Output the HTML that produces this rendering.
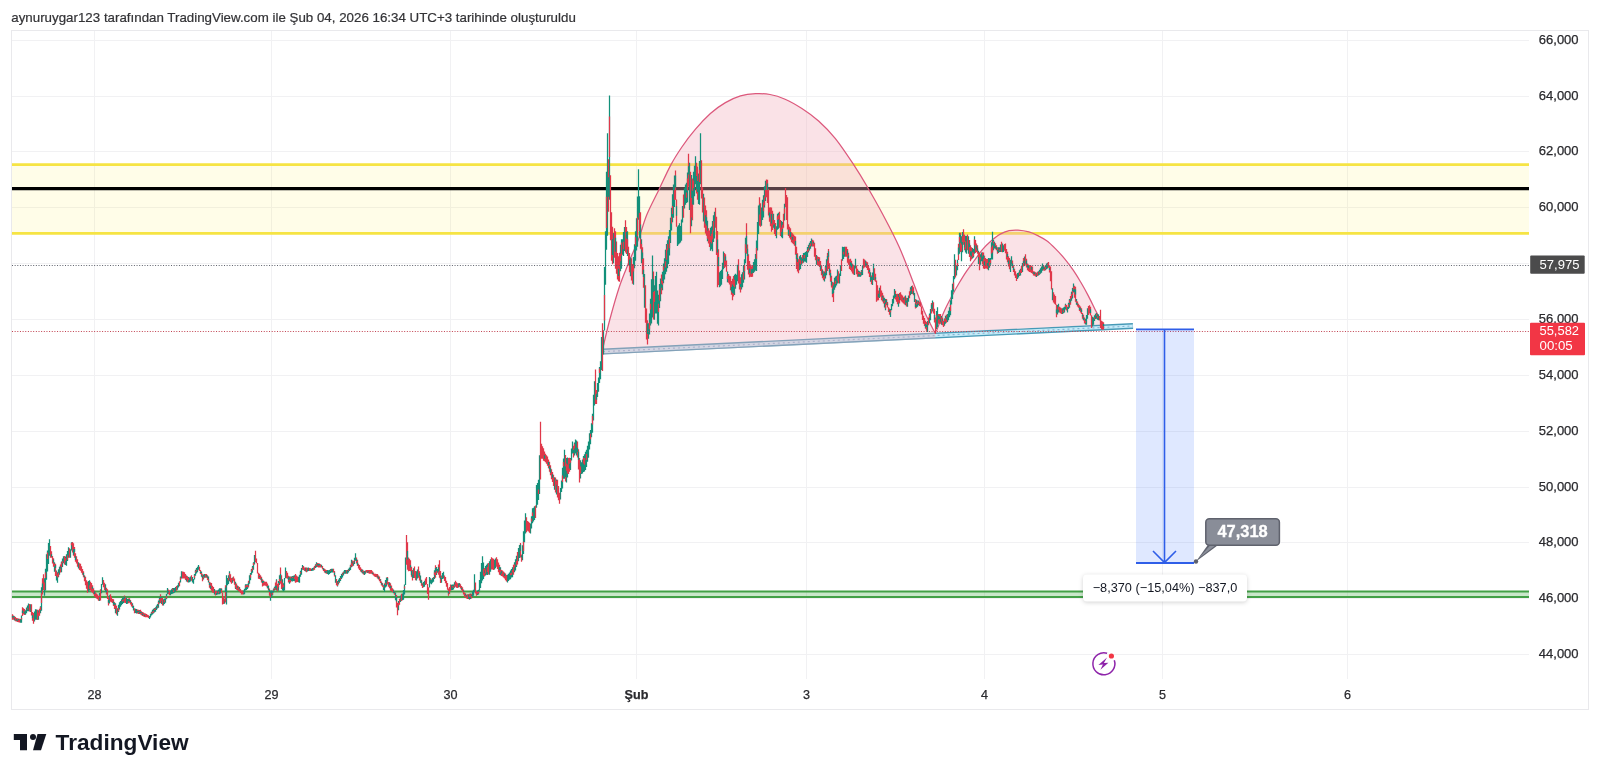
<!DOCTYPE html>
<html><head><meta charset="utf-8"><style>
html,body{margin:0;padding:0;background:#fff;width:1600px;height:776px;overflow:hidden}
svg{display:block;font-family:"Liberation Sans",sans-serif;opacity:0.999}
</style></head><body>
<svg width="1600" height="776" viewBox="0 0 1600 776">
<rect x="0" y="0" width="1600" height="776" fill="#ffffff"/>
<text x="11.3" y="22.2" font-size="12.6" fill="#333336" stroke="#333336" stroke-width="0.2" textLength="564.5" lengthAdjust="spacingAndGlyphs">aynuruygar123 tarafından TradingView.com ile Şub 04, 2026 16:34 UTC+3 tarihinde oluşturuldu</text>
<rect x="11.5" y="30.5" width="1577" height="679" fill="#fff" stroke="#e9e9ec" stroke-width="1"/>
<path d="M12 654.5H1529M12 598.5H1529M12 542.5H1529M12 487.5H1529M12 431.5H1529M12 375.5H1529M12 319.5H1529M12 263.5H1529M12 207.5H1529M12 151.5H1529M12 96.5H1529M12 40.5H1529M94.5 31V679M271.5 31V679M450.5 31V679M636.5 31V679M806.5 31V679M984.5 31V679M1162.5 31V679M1347.5 31V679" stroke="#f1f1f3" stroke-width="1" fill="none"/>
<!-- green support -->
<rect x="12" y="591.5" width="1517" height="5.5" fill="rgba(76,175,80,0.3)"/>
<path d="M12 591.5H1529M12 597H1529" stroke="#43a047" stroke-width="2"/>
<!-- yellow band -->
<rect x="12" y="165" width="1517" height="68" fill="rgba(255,236,80,0.13)"/>
<path d="M12 164.6H1529M12 233.4H1529" stroke="#f6e443" stroke-width="2.6"/>
<path d="M12 188.6H1529" stroke="#000" stroke-width="3.2"/>
<!-- neckline -->
<path d="M603 351.6L1133 326" stroke="#4699b6" stroke-width="6" />
<path d="M603 351.6L1133 326" stroke="#c4ebf8" stroke-width="3.2" />
<path d="M603 351.6L1133 326" stroke="#88b4d4" stroke-width="1.2" stroke-dasharray="2 3"/>
<!-- arcs -->
<path d="M603.0 347.5C604.1 342.9 607.0 330.1 609.7 320.0C612.4 309.9 616.1 296.7 619.3 287.0C622.5 277.3 625.8 270.1 629.0 262.0C632.2 253.9 635.8 246.5 638.7 238.7C641.7 230.9 643.3 223.3 646.7 215.0C650.1 206.7 655.2 197.3 659.3 188.9C663.3 180.5 667.2 171.6 671.0 164.6C674.8 157.6 677.9 152.9 681.9 147.0C685.9 141.1 690.5 135.0 695.3 129.4C700.0 123.8 705.4 118.0 710.4 113.5C715.4 109.0 720.4 105.5 725.4 102.6C730.4 99.7 735.5 97.4 740.5 95.9C745.5 94.4 750.7 93.9 755.6 93.7C760.5 93.5 765.1 93.6 770.0 94.5C774.9 95.4 779.8 96.9 785.1 99.2C790.4 101.5 796.3 104.9 801.9 108.5C807.5 112.1 813.0 116.0 818.6 121.0C824.2 126.0 829.7 131.5 835.4 138.6C841.1 145.7 847.6 155.5 853.0 163.7C858.4 171.9 863.0 179.4 868.0 188.0C873.0 196.6 877.9 205.2 883.1 215.0C888.3 224.8 894.2 235.8 899.2 247.0C904.2 258.1 909.0 271.4 913.1 281.9C917.2 292.3 920.0 301.2 923.6 309.7C927.2 318.2 933.1 329.1 935.0 333.0L935.6 338.5L603 354.6Z" fill="rgba(241,174,188,0.36)" stroke="none"/>
<path d="M603.0 347.5C604.1 342.9 607.0 330.1 609.7 320.0C612.4 309.9 616.1 296.7 619.3 287.0C622.5 277.3 625.8 270.1 629.0 262.0C632.2 253.9 635.8 246.5 638.7 238.7C641.7 230.9 643.3 223.3 646.7 215.0C650.1 206.7 655.2 197.3 659.3 188.9C663.3 180.5 667.2 171.6 671.0 164.6C674.8 157.6 677.9 152.9 681.9 147.0C685.9 141.1 690.5 135.0 695.3 129.4C700.0 123.8 705.4 118.0 710.4 113.5C715.4 109.0 720.4 105.5 725.4 102.6C730.4 99.7 735.5 97.4 740.5 95.9C745.5 94.4 750.7 93.9 755.6 93.7C760.5 93.5 765.1 93.6 770.0 94.5C774.9 95.4 779.8 96.9 785.1 99.2C790.4 101.5 796.3 104.9 801.9 108.5C807.5 112.1 813.0 116.0 818.6 121.0C824.2 126.0 829.7 131.5 835.4 138.6C841.1 145.7 847.6 155.5 853.0 163.7C858.4 171.9 863.0 179.4 868.0 188.0C873.0 196.6 877.9 205.2 883.1 215.0C888.3 224.8 894.2 235.8 899.2 247.0C904.2 258.1 909.0 271.4 913.1 281.9C917.2 292.3 920.0 301.2 923.6 309.7C927.2 318.2 933.1 329.1 935.0 333.0" fill="none" stroke="#dc587c" stroke-width="1.25"/>
<path d="M936.3 331.3C937.6 328.1 941.4 317.7 943.9 312.0C946.4 306.3 948.8 301.8 951.3 297.1C953.8 292.4 956.2 288.0 958.7 283.8C961.2 279.6 963.6 275.6 966.1 271.9C968.6 268.2 970.9 265.2 973.6 261.5C976.3 257.8 979.5 253.1 982.4 249.7C985.3 246.2 988.3 243.4 991.3 240.8C994.3 238.2 997.2 235.8 1000.2 234.1C1003.2 232.4 1006.1 231.4 1009.1 230.7C1012.1 230.0 1014.7 229.9 1018.0 230.1C1021.3 230.3 1025.6 231.0 1028.9 231.9C1032.2 232.8 1034.8 234.1 1037.8 235.6C1040.8 237.1 1043.7 238.6 1046.7 240.8C1049.7 243.0 1052.6 245.9 1055.6 248.9C1058.6 251.9 1061.5 255.0 1064.5 258.6C1067.5 262.2 1070.7 266.4 1073.4 270.4C1076.1 274.3 1078.3 278.1 1080.8 282.3C1083.3 286.5 1086.0 291.4 1088.2 295.6C1090.4 299.8 1092.4 304.0 1094.1 307.5C1095.8 311.0 1097.2 313.4 1098.6 316.4C1100.0 319.4 1101.7 323.8 1102.3 325.3L1102.3 324.8L936.3 332.6Z" fill="rgba(241,174,188,0.36)" stroke="none"/>
<path d="M936.3 331.3C937.6 328.1 941.4 317.7 943.9 312.0C946.4 306.3 948.8 301.8 951.3 297.1C953.8 292.4 956.2 288.0 958.7 283.8C961.2 279.6 963.6 275.6 966.1 271.9C968.6 268.2 970.9 265.2 973.6 261.5C976.3 257.8 979.5 253.1 982.4 249.7C985.3 246.2 988.3 243.4 991.3 240.8C994.3 238.2 997.2 235.8 1000.2 234.1C1003.2 232.4 1006.1 231.4 1009.1 230.7C1012.1 230.0 1014.7 229.9 1018.0 230.1C1021.3 230.3 1025.6 231.0 1028.9 231.9C1032.2 232.8 1034.8 234.1 1037.8 235.6C1040.8 237.1 1043.7 238.6 1046.7 240.8C1049.7 243.0 1052.6 245.9 1055.6 248.9C1058.6 251.9 1061.5 255.0 1064.5 258.6C1067.5 262.2 1070.7 266.4 1073.4 270.4C1076.1 274.3 1078.3 278.1 1080.8 282.3C1083.3 286.5 1086.0 291.4 1088.2 295.6C1090.4 299.8 1092.4 304.0 1094.1 307.5C1095.8 311.0 1097.2 313.4 1098.6 316.4C1100.0 319.4 1101.7 323.8 1102.3 325.3" fill="none" stroke="#dc587c" stroke-width="1.25"/>
<path d="M14.5 616.2V620.5M20.5 619V622.7M21.5 615.6V622.8M25.5 610.2V614.8M26.5 607.5V613.3M27.5 605.4V611.2M28.5 603.6V611.2M30.5 604.3V611.9M34.5 611.5V621.6M35.5 609.2V619.8M36.5 609.6V619.7M38.5 610.2V619.8M40.5 606.2V613.3M41.5 587.2V610.8M44.5 578.2V595.8M45.5 568.8V590.4M46.5 554.2V579.8M47.5 550.5V571.5M48.5 543V564M49.5 539.2V555.8M54.5 562.3V571.7M56.5 570.5V580.5M57.5 572.3V582.8M58.5 569.3V577.3M59.5 566.7V574.8M61.5 561.5V572.3M62.5 558.5V567M63.5 556.2V563.3M65.5 556.6V564.9M66.5 554.3V565.8M67.5 551V561.1M68.5 547.2V557.8M70.5 549.2V557.8M71.5 542.2V550.4M78.5 562.2V568.5M88.5 581V591.7M89.5 580.2V590.4M99.5 593.1V601.1M101.5 583.9V593.3M102.5 577.2V584.8M105.5 584.2V592.1M109.5 595.3V603.4M115.5 603.2V613.3M117.5 608.2V615.8M118.5 604.7V612.1M119.5 602.2V609.4M120.5 600.9V606.8M121.5 599.3V605.2M122.5 598.1V604M123.5 597.2V603.1M126.5 598.1V604M127.5 599V603.8M132.5 603.2V607.8M133.5 605.7V610.5M135.5 608.8V613.1M136.5 609.1V613.4M139.5 610V614.1M149.5 616V619M150.5 613.8V617.5M151.5 611.8V615.4M152.5 609.8V614.5M153.5 608.7V613.4M154.5 607.9V612.6M155.5 607.2V611.8M156.5 605.5V610.1M157.5 604V608.6M158.5 600.5V607.8M159.5 597V603.5M161.5 596.7V604.1M163.5 599.2V605.5M164.5 598.6V604M165.5 598.2V602.8M166.5 594V599.3M167.5 587.9V594.3M170.5 590.5V595.2M171.5 589.3V594M172.5 587.9V593.8M173.5 587.9V593.3M174.5 587.9V592.8M175.5 587.1V591.8M177.5 585.2V589.8M178.5 582.8V587.6M180.5 576.4V582.5M181.5 571.2V578.5M186.5 575.4V581.6M188.5 577V582.4M189.5 577.6V582.3M190.5 576.5V581.6M192.5 577.1V582.4M193.5 578.9V583.8M194.5 573.9V579.4M195.5 569.8V575.8M196.5 567.9V573.5M197.5 566.7V572.3M198.5 565V569.8M201.5 571.4V576.8M203.5 574.4V579.6M204.5 574V577.7M208.5 576.6V582.6M214.5 589.1V594.4M216.5 590.8V594.9M217.5 590.6V594.4M218.5 589.5V594.2M219.5 588.2V594.2M220.5 588.2V593.5M224.5 598.5V603.8M226.5 575.2V604.5M227.5 577.9V585.2M228.5 575.2V583.9M229.5 571.2V581.3M232.5 577.4V582.7M235.5 581.7V589.1M237.5 585.6V590.4M243.5 590.6V594.4M244.5 588.7V594.2M245.5 584.2V590.4M246.5 584.3V589.9M247.5 584.2V589.1M249.5 575.2V583.8M250.5 573.1V580.3M251.5 568.9V574.8M252.5 566V572.8M253.5 562.2V569.8M254.5 555.1V564.4M268.5 585.6V590.4M270.5 590.8V600.8M271.5 590.6V597.9M272.5 590.8V595.5M273.5 588.4V592.5M274.5 586.7V590.6M276.5 579.2V590.4M278.5 580.9V590.8M279.5 575.3V585.1M282.5 579.2V590.4M283.5 583.2V591.2M284.5 577.9V590.4M285.5 567.6V578.2M289.5 576.6V583.8M291.5 576.6V581.3M292.5 576V581.4M293.5 575.7V581.1M294.5 575.2V581.3M298.5 576.8V582.2M299.5 574.7V582.8M300.5 570.8V576.8M301.5 568V574.8M302.5 565V569.8M305.5 567.5V571.4M307.5 567.7V571.6M308.5 567.4V571M311.5 568.7V571M312.5 568V570.8M313.5 567.4V570.6M315.5 564.2V568.1M316.5 562.2V567.2M321.5 564.8V567.4M327.5 570.1V574.1M328.5 570.2V574.8M329.5 569.9V573.9M330.5 569.1V573.1M331.5 568.7V572.5M332.5 568.7V572.5M335.5 575.2V582.8M337.5 581V586.5M338.5 579.5V584.4M339.5 577.9V582.8M340.5 576.1V581M341.5 574.1V578.9M342.5 572.7V577.5M343.5 571.5V575.5M344.5 570V573.8M345.5 570V573.8M347.5 570V573.8M348.5 568.8V572.5M349.5 567.4V571M350.5 564.8V570.1M351.5 559.8V567.2M353.5 561.2V565.8M354.5 557.8V563.9M355.5 553.2V560.8M362.5 569.6V573.5M364.5 571V575M365.5 570.4V573.7M383.5 585.3V590.1M384.5 583.4V591.8M385.5 580.1V587.5M386.5 577.4V586.5M393.5 589.4V593.2M395.5 592.4V600.3M398.5 601V610.3M400.5 595.4V602.1M402.5 593.6V600.3M403.5 590V599.8M404.5 584.6V594.5M405.5 557.6V584.9M413.5 568.2V578.1M416.5 571.2V580.5M417.5 569.4V578.6M420.5 575.6V582.8M423.5 581.9V587.3M424.5 580.8V586.8M429.5 576.9V587.5M430.5 578.3V583.6M431.5 579.5V584.2M432.5 578V582.7M433.5 576.9V581.7M434.5 570.3V579M436.5 567.1V575.1M437.5 569V572.8M441.5 575.6V582.8M442.5 573V579M443.5 571.7V578.6M451.5 584.7V590.2M452.5 584.5V590M453.5 584.6V589.4M454.5 582.3V587.7M458.5 583.2V587.4M468.5 594.3V599.1M470.5 593.6V599M472.5 591.4V596.8M473.5 589.8V595.8M474.5 574.2V592M477.5 590.5V595.1M478.5 589.8V594.5M479.5 580.1V590.7M480.5 571.7V588.1M481.5 563V583.3M482.5 556.2V580.4M483.5 562.6V579M485.5 566.1V575.4M486.5 564.8V574.8M487.5 563.6V574.9M489.5 561.3V574.8M490.5 559.3V571.8M494.5 559.7V569.6M495.5 558.5V568.2M500.5 567.3V575.3M507.5 574.7V582.5M508.5 573.7V580.9M509.5 572.6V579.8M510.5 570.5V579.2M511.5 569V577.6M512.5 567.2V577.3M514.5 562.2V572.2M515.5 559.2V570.4M516.5 555.7V566.9M518.5 548.1V561.2M519.5 544.9V558M522.5 545.2V560.3M523.5 531.2V554.1M524.5 520.6V542.2M525.5 513.2V533.5M530.5 523.6V533.5M531.5 516.2V528.6M532.5 508.2V523.2M533.5 507.8V521.5M534.5 506.3V520M536.5 484.9V507.8M537.5 483.1V504.7M538.5 479.8V500M539.5 455.2V494.1M554.5 477.2V489.8M556.5 479.5V494.6M560.5 488V499.6M561.5 480.6V492.1M562.5 467.8V488.6M563.5 458.6V478.8M564.5 449.8V478.7M566.5 458V482.4M567.5 457.4V477.6M570.5 458V470M571.5 448.6V460.6M572.5 441.5V453.5M574.5 442.5V455.4M575.5 439.5V453.5M576.5 440.5V455.6M580.5 460.2V478.4M581.5 462.2V474.1M582.5 459.4V473.4M583.5 456V472.1M584.5 454.3V471.4M585.5 451.8V470M586.5 449.8V467M587.5 445.7V461.8M588.5 441.5V457.7M589.5 433.2V449.4M590.5 430.1V444.2M591.5 423.3V437.3M592.5 413.7V432.8M593.5 394.7V420.5M594.5 381.2V405.6M597.5 382.9V397M598.5 377.6V391.7M599.5 367V383.1M600.5 361.2V379.3M601.5 337.1V370M603.5 330.2V354.5M604.5 267.1V330.5M605.5 231.2V284.8M606.5 171.7V249.8M607.5 133.2V235.8M609.5 95.6V199.8M613.5 233V263.3M620.5 244.7V271.3M621.5 239.2V268.8M622.5 239.2V254.8M623.5 232V255.9M624.5 226.9V250.9M627.5 231.2V255.9M630.5 257.6V276.2M633.5 257V284.8M634.5 244.2V268.3M635.5 231.2V260.8M636.5 218.3V250.4M637.5 196.5V246.8M638.5 169.2V219.8M639.5 196.3V237.7M641.5 239.2V263.3M644.5 274.1V307.7M648.5 323.2V338.8M649.5 313.5V334.6M650.5 298.8V325.5M651.5 279.2V323.5M652.5 255.6V317.4M654.5 285.2V319.8M655.5 276.1V313.4M656.5 271.8V313.6M657.5 290.4V323.7M658.5 294.8V325.5M659.5 283.9V307.9M660.5 278.5V301.2M662.5 271.8V290.3M663.5 263.4V283.3M664.5 258.2V279.5M665.5 249.7V274.3M666.5 243.9V271.8M667.5 240.3V268.2M668.5 236.2V264.1M669.5 230V255.4M670.5 217.7V243M671.5 207.8V230.6M672.5 194.2V222.2M673.5 184.6V217.8M674.5 175.6V206.9M677.5 226.4V246.1M678.5 225.3V244.4M679.5 223.2V243.5M680.5 226V242.4M681.5 219.6V240.8M682.5 206.1V222.6M684.5 188.3V208.5M685.5 184.6V204.8M686.5 182.8V203M687.5 172.4V202.3M689.5 162.7V210M691.5 175.1V226.2M693.5 171.7V204.8M694.5 165.8V196.3M695.5 156.2V184.2M698.5 173.4V204M699.5 161.1V204.8M700.5 133.2V184.2M703.5 193.8V221.6M707.5 220.7V241.2M710.5 227.8V250.7M711.5 226.4V249.3M712.5 221V251.2M713.5 215.2V241.9M714.5 211.7V238.4M719.5 272.2V287.3M720.5 271.1V286.2M721.5 269.7V284.8M722.5 262.7V279.1M723.5 251.6V269.3M727.5 271.4V282.2M734.5 274.8V295.1M735.5 273.7V288.8M736.5 274.8V284.8M737.5 264.8V281.3M741.5 274.2V289.4M742.5 272.2V287.3M743.5 265V282.7M744.5 259.2V279.6M745.5 237.8V263.3M753.5 262V273.1M754.5 259.2V271.8M755.5 254.1V270.5M756.5 240.6V271.1M757.5 222.1V250.5M758.5 205.5V234M761.5 207.6V225.8M762.5 199.8V220.1M763.5 195.2V217.5M764.5 186.2V207.4M765.5 180.8V201M773.5 213.8V227.8M776.5 226.2V238.2M777.5 213.8V229.8M778.5 212.8V228.8M781.5 221.1V237.2M782.5 222.1V238.2M784.5 203.8V220.4M799.5 256.2V270.3M800.5 255V269.1M801.5 257.2V264.8M803.5 253V262.8M804.5 252.8V261.6M805.5 252V261.8M806.5 250.9V262.8M807.5 247.1V257M808.5 244.7V252.6M809.5 242.7V250.5M810.5 241V248.8M811.5 238.6V246.4M816.5 255V264.8M824.5 271.5V281.4M825.5 265.4V278.4M826.5 259.2V275.3M834.5 277.7V289.8M835.5 276.5V287.5M836.5 275.7V285.6M837.5 269.5V283.5M839.5 273.6V283.5M840.5 265.2V276.1M842.5 246.8V260.8M843.5 247V259M844.5 246.8V256.8M854.5 265.4V275.1M855.5 258.7V268.4M858.5 270.5V276.8M859.5 271.3V276.8M860.5 272.2V276.8M861.5 270V275.5M862.5 265.5V275.1M865.5 260.4V266.8M870.5 272.2V281.8M872.5 272.5V285.1M873.5 263.7V280.1M879.5 287.7V298.1M884.5 297.7V307.4M885.5 298.9V310.3M890.5 309V317M891.5 304V310.3M892.5 299.1V306.3M893.5 295.6V303.6M894.5 288.9V298.5M898.5 293.9V306.8M905.5 295.6V305.2M907.5 298V306.8M908.5 295.6V301.8M910.5 287.2V295.2M911.5 286V294M914.5 293.1V301.9M916.5 299.7V307.7M917.5 300.6V306.8M918.5 300.6V305.2M927.5 321.1V332M929.5 313.4V323M930.5 309V320.3M932.5 300.6V311.4M936.5 311.1V329.1M937.5 307.2V327M941.5 316V324.8M944.5 318.6V325.7M945.5 315.7V323.7M947.5 314V322M948.5 310.7V320.3M949.5 307.3V317.3M950.5 300.2V315.3M951.5 290.2V304.5M952.5 283.8V298.9M953.5 276V291.8M954.5 254.2V279.2M956.5 265.2V275.6M957.5 259.8V270.2M959.5 232.7V253.8M961.5 236.2V261.2M962.5 231.9V252.2M965.5 235.8V252.5M966.5 235.7V253.8M968.5 236.2V253.8M972.5 248V258.5M973.5 248.9V257.6M974.5 236.2V253.8M978.5 250.8V264M980.5 254.2V264.8M981.5 252.5V261.2M988.5 258V270.2M989.5 258.2V267.7M990.5 258V264.8M991.5 242.3V259.5M992.5 231.8V259.4M993.5 239.9V250.3M994.5 241.7V248.5M998.5 247.3V253M999.5 247.2V252.1M1000.5 244.4V252.1M1002.5 243.6V252.3M1003.5 245.2V252.1M1010.5 259.8V272M1011.5 256.2V264.8M1017.5 273.1V279.1M1018.5 272.4V277.4M1019.5 270.2V276.1M1020.5 268.8V275.6M1022.5 263V272M1024.5 256.4V266M1036.5 272.7V277M1038.5 271.2V275.4M1039.5 269.8V274.8M1040.5 268.2V273.8M1041.5 266.4V272.8M1042.5 263.5V270.8M1045.5 265.3V270.3M1046.5 263.5V269.3M1047.5 262.8V268.6M1052.5 288.2V300.2M1057.5 304.9V314.5M1058.5 303.7V312.5M1062.5 308.2V314.1M1063.5 307.5V313.3M1064.5 306.8V312.5M1065.5 303.7V309.4M1067.5 306.8V312.5M1068.5 302.7V309.1M1069.5 298.9V307.8M1071.5 291.8V300.7M1072.5 287.9V298.6M1073.5 283.6V292.4M1076.5 299V304.8M1085.5 318.7V324.4M1086.5 315.1V324.8M1087.5 308.2V318.8M1092.5 316.8V326.4M1093.5 317.6V324.8M1094.5 315.2V320.9M1095.5 313.8V318.9M1096.5 312.9V318.8M1097.5 314V319.8M1098.5 314.5V320.3" stroke="#12907a" stroke-width="1.25" fill="none"/><path d="M12.5 614.2V619.8M13.5 615.5V619.8M15.5 616.9V621.3M16.5 618V621.5M17.5 618.2V621.9M18.5 618.4V622.2M19.5 618.7V622.5M22.5 607.2V615.9M23.5 608.3V614.4M24.5 608.9V615M29.5 604V611.5M31.5 604.2V615.4M32.5 611.9V620.7M33.5 613.1V623.8M37.5 609.8V619.9M39.5 608.7V615.8M42.5 578.3V594.4M43.5 574.2V589.9M50.5 546.1V557.7M51.5 551.2V557.8M52.5 555.9V563.5M53.5 558.2V566.8M55.5 563.7V576M60.5 564.4V572.4M64.5 556.1V564.4M69.5 548.2V557.8M72.5 542.1V552.5M73.5 543.2V555.8M74.5 547.1V557.7M75.5 553.2V561.8M76.5 556.2V563.6M77.5 559.2V566.7M79.5 563.2V569.9M80.5 563.7V570.8M81.5 566.3V572.8M82.5 568.9V574.8M83.5 571.2V577.2M84.5 575.2V581.3M85.5 576.7V585.3M86.5 580.2V588.8M87.5 581.7V592.8M90.5 581.7V590.6M91.5 583.1V592M92.5 585.2V592.8M93.5 588.2V594.2M94.5 590.4V596.4M95.5 592.2V597.4M96.5 593.6V598.4M97.5 594.6V599.3M98.5 595.9V600.8M100.5 589.2V600.4M103.5 579.9V587.2M104.5 582.7V590M106.5 587.8V594.4M107.5 589.2V599.1M108.5 596.9V605.5M110.5 594.2V601.8M111.5 596.6V602.2M112.5 599V603M113.5 599.2V606.1M114.5 602V608.9M116.5 605.8V614.6M124.5 595.6V602.8M125.5 597.2V603.1M128.5 598.6V603.2M129.5 598.2V602.8M130.5 599.9V604.5M131.5 601.9V606.5M134.5 608.2V613.3M137.5 609.6V613.5M138.5 609.8V613.9M140.5 609.8V614.6M141.5 611.2V615.3M142.5 612V616M143.5 612.6V616.5M144.5 613.2V617.1M145.5 613.5V617.3M146.5 614.1V617.3M147.5 614.7V617.3M148.5 615.2V618M160.5 594.2V602.9M162.5 598V605.4M168.5 589.4V594.1M169.5 590.5V595.2M176.5 586V590.8M179.5 581.2V586.2M182.5 571.6V578.4M183.5 571.8V578.6M184.5 572.2V578.5M185.5 573.9V580.1M187.5 576.2V582.3M191.5 575.2V580.8M199.5 566.8V571M200.5 570V574M202.5 574.2V581.3M205.5 574V577.7M206.5 574V577.7M207.5 575.3V580M209.5 581.7V587.8M210.5 582.5V589.3M211.5 583V590.8M212.5 585.7V592.4M213.5 586.9V593.1M215.5 590.8V595.5M221.5 588.2V592.8M222.5 592.5V604.5M223.5 596.4V604M225.5 585.2V602.5M230.5 574.3V582.3M231.5 577.9V583.8M233.5 576.6V581.3M234.5 578.6V584.7M236.5 583.6V589.7M238.5 586.2V591.1M239.5 586.9V591.8M240.5 588.9V593.1M241.5 590.6V594.4M242.5 590.6V594.4M248.5 580.8V587.5M255.5 550.8V562.2M256.5 558.6V563.3M257.5 563V573.6M258.5 572.7V578.8M259.5 573.7V579.1M260.5 575.2V579.8M261.5 576.7V582.6M262.5 579.2V586.5M263.5 580.4V585.8M264.5 581.5V585.4M265.5 581.7V585.8M266.5 581.7V586.5M267.5 583.6V588.4M269.5 588.4V595.8M275.5 582.5V589.9M277.5 583.9V591.3M280.5 567.6V583.8M281.5 575.3V589M286.5 570.9V578.2M287.5 572.7V578.8M288.5 575.7V582.4M290.5 576.5V582.5M295.5 574V582.8M296.5 575.4V582.2M297.5 576.4V581.9M303.5 566V570M304.5 567.4V571M306.5 567.6V572.3M309.5 567.9V570.9M310.5 568.2V571.1M314.5 565.9V569.8M317.5 562.9V567.1M318.5 563.2V567.4M319.5 563.5V567.4M320.5 564.2V567.4M322.5 566.1V569.3M323.5 567.9V571.1M324.5 568.7V572.5M325.5 569.4V573.2M326.5 570V573.8M333.5 568.7V572.5M334.5 570.9V576.4M336.5 579V585.2M346.5 570V573.8M352.5 560.5V566.5M356.5 557.4V563.6M357.5 559.8V565.9M358.5 563.7V568.5M359.5 565V570.1M360.5 567.3V571.4M361.5 568.7V572.5M363.5 570.6V574.5M366.5 570V572.5M367.5 569.9V573M368.5 570.1V573.3M369.5 570V573.8M370.5 570V573.8M371.5 570V573.8M372.5 571.2V574.4M373.5 572.4V575.6M374.5 573.8V576.4M375.5 573.8V577M376.5 574V577.2M377.5 574V578.4M378.5 575.5V579.6M379.5 576.6V581.3M380.5 579.1V583.1M381.5 581.4V585.4M382.5 583V586.7M387.5 576.9V584.6M388.5 582.1V586.8M389.5 582.2V588.3M390.5 583.2V590.8M391.5 585.4V591M392.5 588.3V592.2M394.5 591V594.7M396.5 594.9V607.4M397.5 602.7V615.2M399.5 598.8V604.8M401.5 593.7V601M406.5 535V564.8M407.5 542.2V569.8M408.5 557.6V571.3M409.5 558.7V571.1M410.5 560.2V571.3M411.5 566.8V576.7M412.5 570.1V580.4M414.5 566.6V578M415.5 570.9V580.2M418.5 566.6V577.8M419.5 571.3V580.5M421.5 579.7V585.8M422.5 583.2V588.1M425.5 578.4V585.1M426.5 576.9V584.2M427.5 583.9V593.9M428.5 587.2V599.8M435.5 565.2V577.8M438.5 564.4V574.8M439.5 560.2V577.8M440.5 571.1V582.9M444.5 575.4V580.9M445.5 576.9V583.2M446.5 580.8V586.8M447.5 583.1V589.8M448.5 588.5V595.8M449.5 587.1V593.9M450.5 584.6V590.8M455.5 580.8V586.8M456.5 582.3V587.7M457.5 583.2V588.1M459.5 583V587M460.5 584.3V588.5M461.5 586.1V590.3M462.5 587.2V592M463.5 589.6V594.4M464.5 592.4V597.1M465.5 593.3V597.4M466.5 594.7V598.6M467.5 594.3V599.1M469.5 593.7V599.8M471.5 593.7V598.4M475.5 582.4V593.6M476.5 591.2V595.8M484.5 567.9V576.5M488.5 563.1V574.4M491.5 557.2V569.6M492.5 558.3V569.4M493.5 558.7V569.9M496.5 557.2V566.8M497.5 559.3V569.1M498.5 562.4V572.2M499.5 564.8V574.8M501.5 570V576M502.5 570.6V576.6M503.5 571.6V577.6M504.5 572.6V578.6M505.5 573.6V580.2M506.5 574.9V581.5M513.5 564.7V574.8M517.5 552V564.4M520.5 542.9V557.5M521.5 554.5V561.8M526.5 517.2V532.3M527.5 521V530.8M528.5 521.8V531.6M529.5 522.8V532.7M535.5 505.6V518M540.5 421.8V479.4M541.5 443.7V458.8M542.5 446.2V458.7M543.5 448.3V460.8M544.5 451.4V461.3M545.5 453.7V462.3M546.5 455.2V463.7M547.5 456.6V465.8M548.5 459.6V468.2M549.5 461.7V471.7M550.5 465.3V475.3M551.5 469.3V479.2M552.5 472.1V482M553.5 474.8V486M555.5 477.5V492.6M557.5 479.8V497.4M558.5 485.9V500.2M559.5 492.7V503.8M565.5 455V481.5M568.5 458V474.1M569.5 457.8V471.8M573.5 445.7V457.6M577.5 441.5V457.6M578.5 449.3V469.5M579.5 458V482.4M595.5 369.4V404M596.5 390V404M602.5 323.2V371M608.5 159.2V211.8M610.5 175.2V240.2M611.5 212.2V260.8M612.5 226.7V264.3M614.5 228.2V257.8M615.5 231.2V268.8M616.5 241.6V273.7M617.5 252.9V279.5M618.5 256.2V281.3M619.5 252.7V281.8M625.5 220.2V252.5M626.5 227.1V253.9M628.5 246.8V265.4M629.5 252.9V272.2M631.5 258.2V280.5M632.5 263.9V283.8M640.5 212.2V248.8M642.5 247.3V274.2M643.5 258.2V287.8M645.5 285.2V322.8M646.5 308.5V339.4M647.5 320.2V344.4M653.5 271.4V319.6M661.5 274.4V294.3M675.5 170.5V199.8M676.5 199.5V226.7M683.5 194.4V217.8M688.5 153.7V186.8M690.5 171.7V233.2M692.5 178.4V220.3M696.5 162.8V193.4M697.5 166.6V199.8M701.5 160.2V198.4M702.5 187.2V212.6M704.5 197.5V227.8M705.5 205.4V233.4M706.5 210.2V235.8M708.5 228.2V243.5M709.5 230.4V247M715.5 207.8V227.8M716.5 216.7V254.9M717.5 231V287.3M718.5 249.3V285M724.5 252.9V268M725.5 254.2V266.8M726.5 260.4V271.7M728.5 273.9V282.7M729.5 275.7V284.5M730.5 276.3V290.2M731.5 280.9V294.8M732.5 278.7V300.2M733.5 276.1V296.4M738.5 259.2V283.4M739.5 270.4V289.5M740.5 277.2V292.5M746.5 223.2V253.8M747.5 244.4V269.8M748.5 254.2V274.4M749.5 260.9V277.2M750.5 264.5V276.8M751.5 266.2V277.1M752.5 265V276.8M759.5 197.2V225.8M760.5 203.3V226.7M766.5 179.6V197.2M767.5 179.8V203M768.5 189.1V215.5M769.5 207.6V221.7M770.5 207.2V226.3M771.5 207.6V231.8M772.5 210.8V229.9M774.5 220V234M775.5 223.1V236.1M779.5 211.7V227.8M780.5 220V236.1M783.5 213.8V227.8M785.5 188V207.2M786.5 195.1V220M787.5 197.2V229.4M788.5 224.2V236.1M789.5 226.8V237.7M790.5 228.2V239.4M791.5 232.2V242.3M792.5 233.2V243.2M793.5 234.4V244.3M794.5 235.8V245.7M795.5 236.5V254.7M796.5 246.8V269.1M797.5 253.2V271.4M798.5 259.2V273.2M802.5 254.9V263.6M812.5 239.7V246.5M813.5 240.6V246.4M814.5 242.7V256.8M815.5 248.2V260.2M817.5 256.3V265M818.5 257V265.7M819.5 257.2V267M820.5 261V270.9M821.5 265.2V275.3M822.5 269.3V278.3M823.5 271.3V280.2M827.5 253V271.1M828.5 248.9V269.1M829.5 263.2V275.3M830.5 269.8V281.8M831.5 275.7V287.6M832.5 282.1V297.2M833.5 282.5V302.1M838.5 271.3V283.2M841.5 259.2V271.1M845.5 246.8V256.8M846.5 246.8V256.8M847.5 248.9V262.8M848.5 252.8V264.7M849.5 259.2V269.1M850.5 258.7V270.1M851.5 260.8V271.4M852.5 263.7V273.4M853.5 264.7V274.4M856.5 265.5V274.3M857.5 268.8V276.8M863.5 258.7V268.4M864.5 259.5V267.6M866.5 261.6V267.9M867.5 262.2V270M868.5 265.4V273.4M869.5 268.3V277.1M871.5 275.5V284.2M874.5 268.2V280.4M875.5 273.8V281.8M876.5 280.5V301.8M877.5 285.2V300.6M878.5 290.6V300.2M880.5 285.5V296.8M881.5 290.6V300.2M882.5 292.7V301.5M883.5 295.6V303.6M886.5 298.9V305.2M887.5 302.1V307.6M888.5 307.2V311.9M889.5 308.4V314.8M895.5 290.8V299.5M896.5 293.9V301.8M897.5 293.8V304.2M899.5 292.9V303.4M900.5 292.2V300.2M901.5 294.4V301.5M902.5 295.6V302.4M903.5 297.2V303.6M904.5 296.4V304.4M906.5 297.8V306.5M909.5 291.2V298.3M912.5 285.5V294M913.5 287.2V295.2M915.5 298.9V308.6M919.5 301.4V306M920.5 302.2V306.8M921.5 306.5V314.6M922.5 310.7V320.1M923.5 315.7V323.7M924.5 318.1V326.1M925.5 320.7V328.7M926.5 322V330.8M928.5 317.4V325.3M931.5 303.1V313.6M933.5 302.2V313.6M934.5 308.7V322.5M935.5 317.4V333.7M938.5 314V323.7M939.5 314V323.7M940.5 314V323.7M942.5 317.4V325.3M943.5 320.7V327M946.5 314.7V322.7M955.5 259.7V277.4M958.5 243.7V260.1M960.5 232.7V252.1M963.5 229.2V244.8M964.5 234.5V250.3M967.5 234.5V250.3M969.5 240.1V256.9M970.5 245.2V261.2M971.5 247.2V259.4M975.5 240V253.1M976.5 243.5V252.1M977.5 245.2V253.8M979.5 252.5V270.2M982.5 252.2V264.5M983.5 252.5V268.4M984.5 255.7V268.9M985.5 258V268.4M986.5 259.1V268.6M987.5 258.9V269.3M995.5 243.3V249.2M996.5 245.2V250.3M997.5 247.2V253.8M1001.5 241.7V252.1M1004.5 244V250.8M1005.5 243.5V253.2M1006.5 248.9V259.4M1007.5 251.7V262.2M1008.5 256.2V266.6M1009.5 258V269.3M1012.5 260.4V268.1M1013.5 265.2V272M1014.5 268.8V275.6M1015.5 271.2V278M1016.5 274.2V281M1021.5 266.1V272.9M1023.5 258V266.6M1025.5 254.2V264.8M1026.5 258.8V267.5M1027.5 263.4V270.2M1028.5 264.5V271.3M1029.5 265.2V272M1030.5 265V272.3M1031.5 265.7V273M1032.5 266.6V273.8M1033.5 271.2V275.4M1034.5 271.6V275.8M1035.5 272.3V276.5M1037.5 271.8V276.1M1043.5 264.9V270.6M1044.5 266.6V270.8M1048.5 261.9V267.8M1049.5 265.3V272.6M1050.5 266.6V281.3M1051.5 271.2V289.4M1053.5 292.2V302.6M1054.5 294.4V303.8M1055.5 295.9V304.8M1056.5 304.5V317.2M1059.5 306.8V312.5M1060.5 307.5V313.3M1061.5 308.2V314.1M1066.5 304.9V310.6M1070.5 295.9V304.8M1074.5 285.8V297.7M1075.5 286.7V301.8M1077.5 301.5V306.4M1078.5 303.7V307.8M1079.5 305.2V311M1080.5 306.6V312.4M1081.5 308.2V314.1M1082.5 312.9V318.8M1083.5 314.8V320.6M1084.5 317.6V323.4M1088.5 305.9V314.9M1089.5 305.2V313.6M1090.5 306.8V315.6M1091.5 315.3V328M1099.5 316V320.3M1100.5 309.8V328M1101.5 320.7V329.5M1102.5 321.5V329.6M1103.5 322.2V329.5" stroke="#e0384a" stroke-width="1.25" fill="none"/><path d="M12.5 616.2V617.4M13.5 616V617.4M16.5 619.2V620.8M17.5 620V620.8M18.5 619V619.9M22.5 610.4V613.1M24.5 611.4V613.7M32.5 615.2V618.3M42.5 583.5V590.3M51.5 554.2V556.8M53.5 559.4V562.5M55.5 564.9V567.9M60.5 566.3V568.4M73.5 549.2V554.8M74.5 549.1V551.9M75.5 556.2V559.9M83.5 572.8V575.4M84.5 576.1V577.6M92.5 586.7V588.8M94.5 591.3V593.9M106.5 590.5V592.6M108.5 599.9V602.7M113.5 601.5V604.5M114.5 603.1V605.2M124.5 596.4V598.4M128.5 599.2V601M129.5 599.4V601.4M130.5 600.7V602.6M137.5 610.9V612.5M138.5 611V612.1M140.5 611.7V613M141.5 612.2V613M142.5 613.6V614.9M144.5 614.8V616M160.5 596.5V598.3M168.5 590.9V592.4M200.5 571.8V573.1M202.5 575.9V577.9M206.5 575V576.6M207.5 576.6V577.8M209.5 583V585M210.5 585.8V588.6M221.5 589V590.1M225.5 587.6V592.1M239.5 587.7V589.3M248.5 582.7V585.7M259.5 575.9V577.3M261.5 578.3V580.4M262.5 581.1V582.9M263.5 581.1V582.2M267.5 585.9V587.8M269.5 590.1V591.9M275.5 585.7V588.5M280.5 574.1V581.1M288.5 577.3V580M290.5 578.4V580.1M317.5 563.9V565.4M318.5 564V565.6M319.5 564V565.2M323.5 568.6V570M325.5 571.1V572.8M326.5 571.5V572.4M334.5 572.6V575M346.5 571.7V572.5M352.5 562.2V563.6M356.5 559.2V561.1M357.5 562.5V565.2M361.5 570.3V571.9M363.5 572.2V573.2M367.5 571.4V572.5M368.5 571.4V572.1M372.5 572.8V573.9M377.5 575.8V576.7M378.5 577V578.8M380.5 579.5V580.5M381.5 582.7V584.3M382.5 584.3V585.1M387.5 578V580.7M389.5 582.8V585M390.5 585.9V588.3M394.5 591.5V592.9M396.5 597.1V601.5M407.5 551.1V559.6M410.5 565.2V567.5M411.5 570.7V575.1M412.5 574.8V577.7M419.5 573V576.3M421.5 580.6V583.2M422.5 583.7V584.8M435.5 567.9V572.7M438.5 567.2V571.4M440.5 576.3V579M448.5 591.3V593.6M459.5 583.6V585.3M461.5 587.8V589.3M463.5 590.4V591.7M465.5 594.1V595.3M466.5 595.6V596.6M469.5 596.7V599.1M471.5 594.9V595.9M484.5 570.2V572.9M499.5 566.9V569.9M501.5 571.1V573.5M504.5 573.5V575.9M520.5 544.4V550.8M521.5 555.5V557.2M544.5 455.2V458.8M548.5 462V464.9M549.5 466V469M550.5 468.3V472.7M552.5 474.3V477.7M565.5 466.4V476.9M569.5 463.7V468.5M573.5 450V453M577.5 447.7V451.9M578.5 451.7V459.7M596.5 393.8V399.7M608.5 177.2V196.7M612.5 239.2V255.1M615.5 237.7V251.8M618.5 268.7V276.1M626.5 231.9V238.5M629.5 259.4V265.2M640.5 224.5V238.7M642.5 252.6V258.9M643.5 269.7V277M647.5 323.6V334M653.5 279.2V292.1M661.5 283.5V287.8M675.5 175.6V187.6M676.5 206.2V215.7M688.5 166.3V174.5M692.5 190.8V204.5M696.5 176V189.3M697.5 181.1V192.1M705.5 215.3V223.4M706.5 217.2V225.5M717.5 239.4V252.5M718.5 257V266.3M725.5 256.6V260.7M731.5 287.1V291.4M732.5 284.6V292.9M733.5 285.9V293.7M740.5 284.1V287.1M746.5 235.9V248.5M747.5 248.8V255.9M749.5 268.5V273.1M751.5 269.2V273.8M752.5 268.8V272.7M759.5 204.6V214.4M767.5 183.6V189.9M769.5 212.6V217.5M771.5 214V223.6M774.5 224.2V228.9M788.5 229.8V234.7M790.5 232V237M792.5 237.1V239.7M795.5 240.9V245.4M796.5 254V259.1M797.5 258V261.9M802.5 258.7V260.7M813.5 242.1V243.4M818.5 258.9V261.2M820.5 265.6V269.5M822.5 270.3V273.7M823.5 273.7V276.9M827.5 256V260.5M828.5 251.2V256.8M829.5 268.5V272.6M830.5 273.1V277.6M831.5 280.9V285.6M832.5 288.8V294.1M833.5 285.4V293.1M847.5 250.6V254.6M848.5 255.5V258.3M850.5 262.2V265.7M851.5 263.2V267.6M866.5 263.6V264.9M869.5 270.1V272.1M871.5 277V280.1M875.5 277.2V279.5M878.5 293.7V297.2M882.5 295.7V297.6M883.5 297.8V301.4M886.5 300.2V302.5M887.5 303.4V305.1M889.5 309.8V311.8M895.5 294V297.1M899.5 296.8V300.1M903.5 298.1V299.7M906.5 300.5V302.8M913.5 291.2V294.2M915.5 303.6V306.9M925.5 323.9V327.4M926.5 325V327M931.5 304.6V308.8M934.5 314.9V319.6M938.5 315.7V319.6M939.5 316.8V319.1M940.5 318.4V321.8M942.5 318.7V321M946.5 317.6V319.8M958.5 247.5V254.8M960.5 234.7V242.8M964.5 241.9V247.4M969.5 243.5V247M970.5 251.3V255.4M971.5 251.4V256.4M976.5 245.5V248.8M977.5 248.4V250.8M982.5 256.5V261.2M983.5 255.1V258.8M984.5 261.3V265.3M987.5 263V265.8M995.5 246.1V247.8M996.5 247.2V249.4M997.5 249.9V251.6M1007.5 253.9V257.1M1008.5 260.4V264.1M1012.5 263.5V266.6M1013.5 267.2V270.1M1023.5 261.2V263.1M1026.5 260.5V263.9M1027.5 265.5V267.2M1028.5 265.2V268.3M1031.5 267V269.7M1033.5 272.2V273.6M1034.5 272.4V274.2M1043.5 266.4V269M1044.5 267.7V268.7M1049.5 268.1V270.1M1056.5 309.4V313.2M1070.5 299.6V302.6M1074.5 288.7V292.1M1075.5 289.4V294.6M1077.5 303.6V304.7M1079.5 307.6V309.7M1080.5 308.2V309.9M1081.5 309.8V311.9M1082.5 314.4V316.4M1083.5 317.6V319.9M1090.5 309.3V313.1M1103.5 323.9V326.3" stroke="#12907a" stroke-width="1.25" fill="none"/><path d="M14.5 616.8V617.7M21.5 617.9V619.4M27.5 608.3V609.6M38.5 612.6V616.2M40.5 607.1V609.9M41.5 593.3V603.1M44.5 582.5V589.9M45.5 572.5V578.1M47.5 552.6V559M54.5 564.1V566.3M56.5 571.6V575.8M57.5 574.4V577.4M58.5 572.8V576.4M61.5 562.6V567.4M62.5 561.2V563M65.5 558V561.2M67.5 555.3V559.8M71.5 543.1V545.3M89.5 585.2V588.9M99.5 595.3V597.3M115.5 604.5V608.2M118.5 608.1V611.3M122.5 599.9V601.6M123.5 599.5V600.7M132.5 604.9V606.3M139.5 610.5V611.5M151.5 612.6V613.4M152.5 611.7V612.9M153.5 610.8V612.7M154.5 608.8V610.1M155.5 608.5V609.7M157.5 606.2V607.5M158.5 602.3V604.6M159.5 598.9V600.3M161.5 598.1V600.7M164.5 599.9V602.3M166.5 596.3V598.5M172.5 588.6V589.9M173.5 590.2V592.1M180.5 577.6V580M186.5 576.6V579M188.5 578.1V580.1M194.5 575.5V577.7M195.5 571V572.6M196.5 569.8V571.1M201.5 573V574.7M203.5 576.5V578.6M208.5 579.2V580.8M216.5 591.3V593M218.5 591.4V593.4M224.5 599.3V600.6M228.5 577.9V580.5M229.5 573.3V577.8M232.5 578.5V580.1M235.5 584.5V587.7M237.5 587.9V589.8M243.5 592.2V593.2M245.5 585.4V587.7M246.5 585V586.9M247.5 585.1V586.8M250.5 574.5V577.7M251.5 569.5V571.5M252.5 567.4V569.9M253.5 563.1V565.2M270.5 593.2V597.6M272.5 592.8V594.7M273.5 589.6V590.8M274.5 587.7V589.3M276.5 580.6V585.4M278.5 583V587.3M279.5 579.1V581.8M282.5 582.4V587.4M283.5 584.8V587.3M289.5 579.5V581.4M292.5 576.7V577.9M294.5 576.8V579M300.5 572V573.4M302.5 567.4V569M307.5 568.6V569.5M313.5 568.7V570.1M315.5 565.2V566.1M316.5 563.9V565.7M330.5 569.6V570.9M337.5 583.6V586.1M338.5 581.8V583.2M340.5 578.1V579.4M342.5 573.6V575M343.5 572.1V573.1M348.5 569.8V571.1M350.5 565.4V567.3M351.5 562.8V565.7M353.5 561.8V563.3M354.5 559.9V561.3M362.5 571.2V572.1M365.5 571.4V572.3M383.5 586V587.4M385.5 582.7V585.1M398.5 603.1V605.6M404.5 586.5V588.6M430.5 579V580.1M433.5 577.6V578.6M434.5 572.3V574.9M436.5 571V573.6M441.5 576.3V578.1M452.5 585.9V587.5M453.5 586.8V587.8M454.5 584.8V586.5M470.5 594.6V596.5M477.5 592V593.8M478.5 591.6V593.6M483.5 569.3V575.5M485.5 569.6V573.6M487.5 566.9V572M500.5 569.4V572.4M510.5 573.3V575.3M511.5 572.8V575.1M512.5 569.9V572.4M514.5 564.4V567.6M516.5 561V565.6M523.5 541.8V550.9M531.5 518.6V521.5M532.5 512.5V516M538.5 489.6V494M556.5 481V484.8M562.5 475.5V482M563.5 462.1V466.3M566.5 463.4V470.8M567.5 464.6V473.4M570.5 459.3V462.8M574.5 443.8V448.6M580.5 466.6V473.4M583.5 457.7V463.5M584.5 458.1V464.7M586.5 454.1V460M590.5 433.7V439.3M592.5 416.1V424.5M599.5 368.6V372.9M604.5 295V320.5M606.5 196.8V228M609.5 116.6V157M620.5 253.7V261.3M621.5 242.6V255.8M623.5 241.8V249.2M627.5 239.2V249.5M633.5 264.8V271.5M635.5 237.2V245.7M637.5 217.4V236.3M639.5 213V231M641.5 244.1V249.7M649.5 322.6V329.3M650.5 303.8V309.6M654.5 291V302.1M658.5 303.7V312M659.5 289.8V300.6M662.5 280.9V284.7M663.5 266.5V270.5M665.5 261.2V267.4M666.5 248.7V259.7M667.5 244V250.2M669.5 238.8V248.3M671.5 216.8V223.6M672.5 206.1V214M674.5 190.1V200.1M686.5 192.6V197.8M687.5 178.4V190.5M691.5 198V217.4M693.5 180.4V188.1M699.5 169.7V182.1M707.5 230.7V238.8M710.5 235.9V242M711.5 233.7V243.6M712.5 230.3V239.6M713.5 221.2V230.8M727.5 276.2V279M734.5 279.7V287.2M743.5 272.3V279.7M744.5 264.9V271.3M745.5 244.3V252.9M756.5 248V258.7M763.5 202.2V211.2M764.5 196.6V205.2M765.5 190V197.6M773.5 219.9V224.8M777.5 216.2V220M778.5 215V218.9M781.5 227.6V232.1M782.5 224.8V229.1M784.5 208.4V213.4M799.5 258.7V262.5M800.5 260.2V264.2M804.5 254.9V258.2M807.5 249.9V252.2M808.5 248.3V251.1M809.5 245.4V247.4M810.5 243.4V246M824.5 275.8V278.7M825.5 267.2V272.8M835.5 280.7V283.9M837.5 276.2V280.5M843.5 251.8V254.4M858.5 272V273.6M859.5 272.3V274.3M860.5 273.3V274.7M861.5 270.7V271.8M884.5 300.4V302.8M885.5 303.9V308.6M890.5 310.4V312.2M898.5 297V302.4M910.5 289.3V291.1M916.5 303V304.7M917.5 301.3V303.4M918.5 302.4V303.8M929.5 315.1V318.1M936.5 315.3V319.6M941.5 317.7V321.4M944.5 319.3V321.8M945.5 318V321.5M950.5 305.1V311M953.5 282.6V289.2M957.5 263.1V266.3M959.5 236.9V242.3M961.5 244.4V251.3M962.5 236.3V242M965.5 241.3V248.8M972.5 252.2V256.8M973.5 252.6V256.2M974.5 239.3V245.2M978.5 252.4V257.1M980.5 257.2V259.4M989.5 262V266.3M990.5 260.1V263.1M991.5 247.3V253.5M992.5 245.5V252.6M993.5 241.1V243.5M999.5 249.3V250.8M1019.5 272.8V275.4M1020.5 269.8V272.8M1036.5 273.6V274.5M1039.5 271.7V273.5M1045.5 267V269.2M1047.5 263.8V265.2M1058.5 306.8V309.7M1063.5 310.3V312.2M1065.5 304.7V307M1068.5 304.3V306.9M1069.5 300.3V302.7M1071.5 294.1V298.1M1072.5 291V295.3M1073.5 286.9V289.4M1076.5 301.2V302.8M1085.5 321V322.7M1094.5 317.3V319.3M1096.5 313.7V316.1M1097.5 316.3V318.3" stroke="#e0384a" stroke-width="1.25" fill="none"/>
<!-- price lines -->
<path d="M12 265.5H1529" stroke="#5d606b" stroke-width="1" stroke-dasharray="1 1.65"/>
<path d="M12 331.5H1529" stroke="#c0404f" stroke-width="1" stroke-dasharray="1 1.65"/>
<!-- projection -->
<rect x="1136" y="329" width="58" height="234" fill="rgba(41,98,255,0.15)"/>
<path d="M1136 329.3H1194M1136 563H1194" stroke="#2f5ee8" stroke-width="1.8"/>
<path d="M1164.5 330V562M1153 551L1164.5 562.5L1176 551" stroke="#2f5ee8" stroke-width="1.6" fill="none"/>
<!-- callout -->
<path d="M1208.5 544L1196 561.5L1219.5 544Z" fill="#5f626d"/><path d="M1210.5 545L1198.5 558.5L1216 545Z" fill="#8a8e99"/>
<circle cx="1196" cy="561.5" r="2.2" fill="#5d606b"/>
<rect x="1205.8" y="518.8" width="73.6" height="26.4" rx="3.5" fill="#898d98" stroke="#5f626d" stroke-width="1.5"/>
<text x="1217.4" y="537" font-size="16" font-weight="bold" fill="#fff" stroke="#fff" stroke-width="0.3" textLength="50.3" lengthAdjust="spacingAndGlyphs">47,318</text>
<!-- measure label -->
<rect x="1083" y="574.5" width="164" height="27" rx="4" fill="#fff" style="filter:drop-shadow(0 1px 2px rgba(0,0,0,0.18))"/>
<text x="1092.7" y="592" font-size="12.6" fill="#131722" textLength="144.6" lengthAdjust="spacingAndGlyphs">−8,370 (−15,04%) −837,0</text>
<!-- price scale -->
<g font-size="12.6" fill="#2a2a2e" stroke="#2a2a2e" stroke-width="0.25">
<text x="1538.8" y="658.3" textLength="39.8" lengthAdjust="spacingAndGlyphs">44,000</text><text x="1538.8" y="602.3" textLength="39.8" lengthAdjust="spacingAndGlyphs">46,000</text><text x="1538.8" y="546.3" textLength="39.8" lengthAdjust="spacingAndGlyphs">48,000</text><text x="1538.8" y="491.3" textLength="39.8" lengthAdjust="spacingAndGlyphs">50,000</text><text x="1538.8" y="435.3" textLength="39.8" lengthAdjust="spacingAndGlyphs">52,000</text><text x="1538.8" y="379.3" textLength="39.8" lengthAdjust="spacingAndGlyphs">54,000</text><text x="1538.8" y="267.3" textLength="39.8" lengthAdjust="spacingAndGlyphs">58,000</text><text x="1538.8" y="211.3" textLength="39.8" lengthAdjust="spacingAndGlyphs">60,000</text><text x="1538.8" y="155.3" textLength="39.8" lengthAdjust="spacingAndGlyphs">62,000</text><text x="1538.8" y="100.3" textLength="39.8" lengthAdjust="spacingAndGlyphs">64,000</text><text x="1538.8" y="44.3" textLength="39.8" lengthAdjust="spacingAndGlyphs">66,000</text><text x="1538.8" y="323.3" textLength="39.8" lengthAdjust="spacingAndGlyphs">56,000</text>
</g>
<rect x="1530.2" y="255.6" width="54.5" height="18.2" rx="1" fill="#4b4b4c"/>
<text x="1539.5" y="268.8" font-size="12.6" fill="#fff" textLength="40" lengthAdjust="spacingAndGlyphs">57,975</text>
<rect x="1530" y="322.7" width="55" height="32.5" rx="1" fill="#f23645"/>
<text x="1539.5" y="335.2" font-size="12.6" fill="#fff" textLength="39.5" lengthAdjust="spacingAndGlyphs">55,582</text>
<text x="1539.5" y="349.8" font-size="12.6" fill="#fff" textLength="33.2" lengthAdjust="spacingAndGlyphs">00:05</text>
<!-- time axis -->
<g font-size="12.6" fill="#2a2a2e" stroke="#2a2a2e" stroke-width="0.25" text-anchor="middle"><text x="94.5" y="698.5" >28</text><text x="271.5" y="698.5" >29</text><text x="450.5" y="698.5" >30</text><text x="636.5" y="698.5" font-weight="bold">Şub</text><text x="806.5" y="698.5" >3</text><text x="984.5" y="698.5" >4</text><text x="1162.5" y="698.5" >5</text><text x="1347.5" y="698.5" >6</text></g>
<!-- lightning icon -->
<g fill="none" stroke="#8e24aa" stroke-width="1.5">
<path d="M1114.3 660.3A11 11 0 1 1 1107.1 653.3"/>
</g>
<path d="M1107 657.6L1098.4 664.9L1102.9 664.5L1100.4 669.8L1108.4 662.7L1103.9 663.1Z" fill="#8e24aa"/>
<circle cx="1111.4" cy="656" r="2.6" fill="#f23645"/>
<!-- logo -->
<g fill="#131722">
<path d="M13.8 734H27V750.3H20V740H13.8Z"/>
<circle cx="33" cy="737" r="3"/>
<path d="M37.5 734H46.3L41 750.3H33Z"/>
<text x="55.6" y="750.3" font-size="22" font-weight="bold" textLength="133" lengthAdjust="spacingAndGlyphs">TradingView</text>
</g>
</svg>
</body></html>
